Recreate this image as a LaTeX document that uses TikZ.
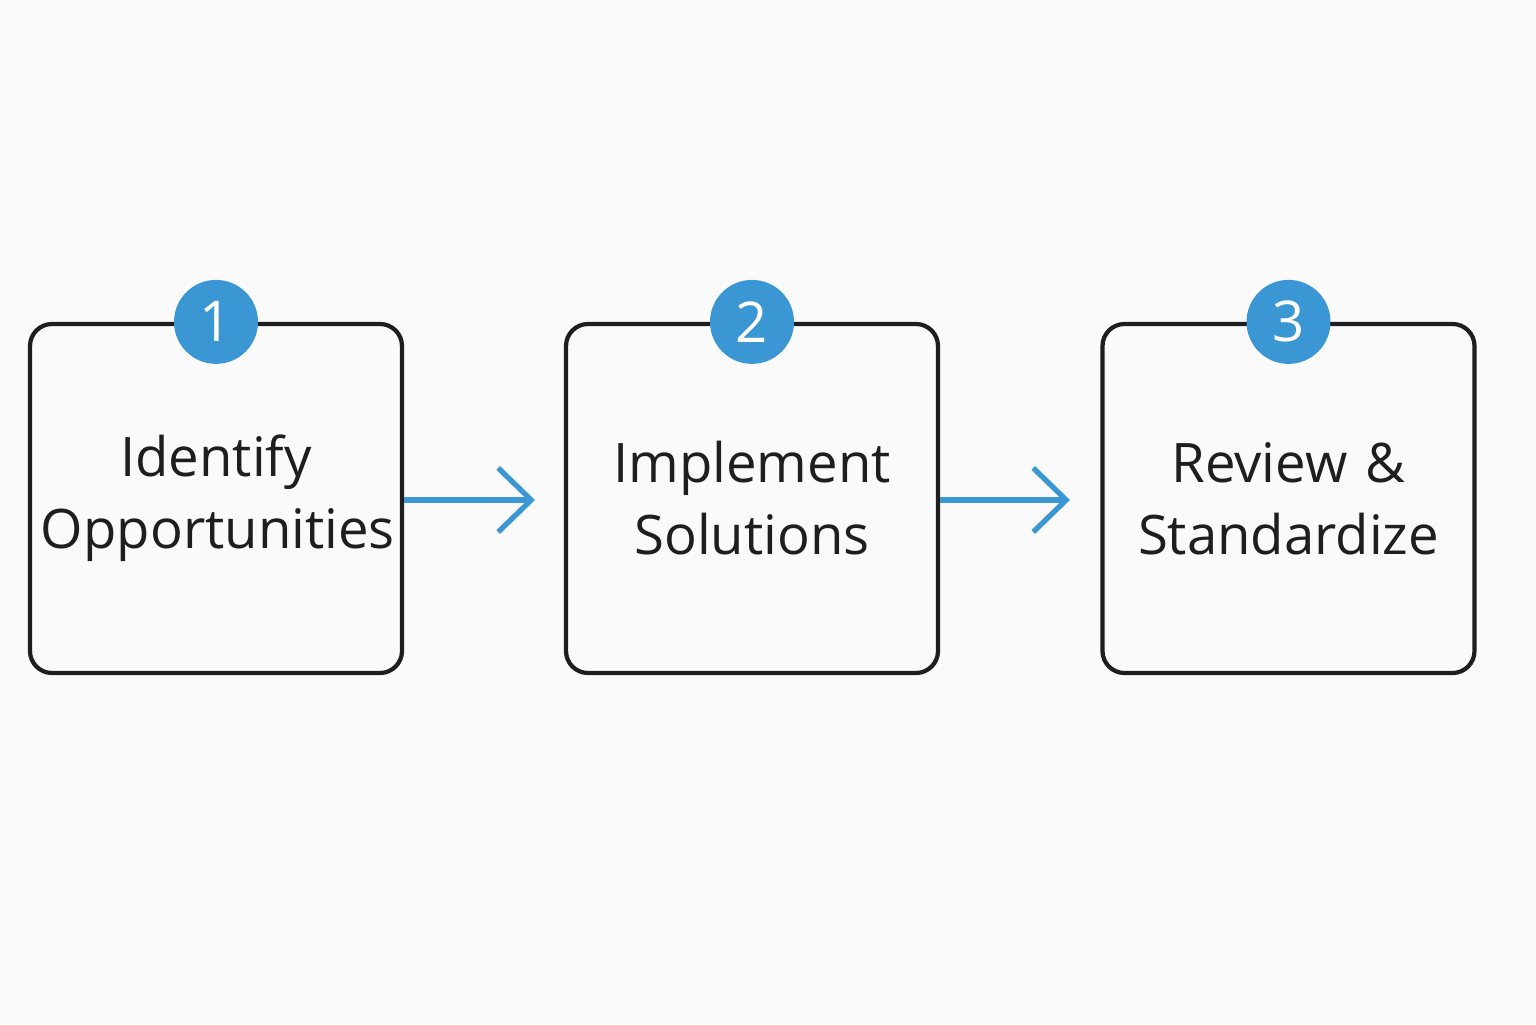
\documentclass[tikz,border=0pt]{standalone}
\usepackage{fontspec}
\setmainfont{Open Sans}
\usepackage{tikz}
\usetikzlibrary{arrows.meta, positioning}
\definecolor{stepBlue}{HTML}{3A97D4}
\definecolor{boxInk}{HTML}{1E1E1E}
\tikzset{
	stagebox/.style={draw=boxInk, line width=1.2pt, rounded corners=2.2mm, minimum width=3.72cm, minimum height=3.49cm, text width=3.5cm, inner sep=0pt, align=center, font=\fontsize{15.5}{20.5}\selectfont\color{boxInk}},
	badge/.style={circle, fill=stepBlue, minimum size=0.84cm, inner sep=0pt, text=white, font=\fontsize{16}{18}\selectfont},
	flow/.style={draw=stepBlue, line width=1.5pt, -{Straight Barb[length=3.3mm, width=6.4mm, line width=1.5pt]}}
}
\begin{document}
\begin{tikzpicture}
	\fill[fill=white!98!black] (0,0) rectangle (15.36,10.24);
	\useasboundingbox (0,0) rectangle (15.36,10.24);

	\node[stagebox] (identify) at (2.16,5.255) {Identify\\Opportunities};
	\node[stagebox] (implement) at (7.52,5.255) {Implement\\Solutions};
	\node[stagebox] (review) at (12.885,5.255) {Review \&\\Standardize};

	\node[badge] (one) at (identify.north) {1};
	\node[badge] (two) at (implement.north) {2};
	\node[badge] (three) at (review.north) {3};

	\coordinate (tipA) at (5.35,5.24);
	\coordinate (tipB) at (10.70,5.24);
	\draw[flow] (identify.east |- tipA) -- (tipA);
	\draw[flow] (implement.east |- tipB) -- (tipB);
\end{tikzpicture}
\end{document}
